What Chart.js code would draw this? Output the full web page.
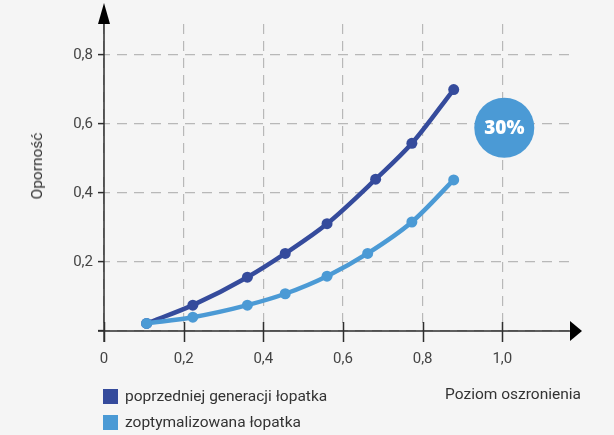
<!DOCTYPE html>
<html lang="pl">
<head>
<meta charset="utf-8">
<title>Oporność vs poziom oszronienia</title>
<script src="https://cdn.jsdelivr.net/npm/chart.js@4"></script>
<style>
    body { margin: 0; background: #f5f5f5; font-family: Roboto, "Noto Sans", sans-serif; }
    #wrap { position: relative; width: 614px; height: 435px; background: #f5f5f5; }
    #chart { position: absolute; left: 0; top: 0; }
    #ytitle {
        position: absolute; left: 37px; top: 166px;
        transform: translate(-50%, -50%) rotate(-90deg);
        font-size: 15.5px; color: #333; white-space: nowrap;
    }
    #xtitle {
        position: absolute; right: 33px; top: 385px;
        font-size: 15.5px; color: #333; white-space: nowrap;
    }
    #legend { position: absolute; left: 103px; top: 383px; }
    .item { display: flex; align-items: center; height: 26px; font-size: 15.5px; color: #333; white-space: nowrap; }
    .box { width: 15px; height: 15px; margin-right: 7px; }
</style>
</head>
<body>
<div id="wrap">
    <canvas id="chart" width="614" height="435"></canvas>
    <div id="ytitle"></div>
    <div id="xtitle"></div>
    <div id="legend"></div>
</div>
<script>
// data
const seriesNames = ["poprzedniej generacji łopatka", "zoptymalizowana łopatka"];
const seriesColors = ["#354b9c", "#4b9ad5"];
const xOld = [0.107, 0.223, 0.36, 0.455, 0.56, 0.682, 0.773, 0.878];
const yOld = [0.022, 0.075, 0.156, 0.225, 0.311, 0.44, 0.544, 0.70];
const xNew = [0.107, 0.223, 0.36, 0.455, 0.56, 0.662, 0.773, 0.878];
const yNew = [0.022, 0.04, 0.075, 0.108, 0.159, 0.225, 0.316, 0.438];
const xTitle = "Poziom oszronienia";
const yTitle = "Oporność";
const badgeText = "30%";
const badgeX = 1.005;
const badgeY = 0.589;

document.getElementById("ytitle").textContent = yTitle;
document.getElementById("xtitle").textContent = xTitle;
let legendEl = document.getElementById("legend");
seriesNames.forEach((name, i) => {
    let row = document.createElement("div");
    row.className = "item";
    row.innerHTML = `<span class="box" style="background:${seriesColors[i]}"></span>${name}`;
    legendEl.appendChild(row);
});

function toPoints(xs, ys) {
    return xs.map((x, i) => ({ x: x, y: ys[i] }));
}

function fmt(v) {
    if (Math.abs(v) < 1e-9) return "0";
    return v.toFixed(1).replace(".", ",");
}

// axis lines, arrows, ticks crossing the x axis, and the 30% badge
const extras = {
    id: "extras",
    beforeDatasetsDraw(chart) {
        const { ctx, chartArea: a, scales: { x, y } } = chart;
        const x0 = x.getPixelForValue(0);
        const y0 = y.getPixelForValue(0);
        ctx.save();
        ctx.strokeStyle = "#2e2e2e";
        ctx.fillStyle = "#000";
        ctx.lineWidth = 1.5;
        ctx.beginPath();
        ctx.moveTo(x0 - 6, y0);
        ctx.lineTo(a.right + 2, y0);
        ctx.moveTo(x0, a.top);
        ctx.lineTo(x0, y0 + 11);
        x.ticks.forEach(t => {
            const px = Math.round(x.getPixelForValue(t.value)) + 0.5;
            ctx.moveTo(px, y0 - 9);
            ctx.lineTo(px, y0 + 11);
        });
        ctx.stroke();
        // arrows
        ctx.beginPath();
        ctx.moveTo(x0, 3);
        ctx.lineTo(x0 - 6, a.top);
        ctx.lineTo(x0 + 6, a.top);
        ctx.closePath();
        ctx.fill();
        ctx.beginPath();
        ctx.moveTo(a.right + 12, y0);
        ctx.lineTo(a.right, y0 - 10);
        ctx.lineTo(a.right, y0 + 10);
        ctx.closePath();
        ctx.fill();
        ctx.restore();
    },
    afterDatasetsDraw(chart) {
        const { ctx, scales: { x, y } } = chart;
        const cx = x.getPixelForValue(badgeX);
        const cy = y.getPixelForValue(badgeY);
        ctx.save();
        ctx.fillStyle = seriesColors[1];
        ctx.beginPath();
        ctx.arc(cx, cy, 30, 0, Math.PI * 2);
        ctx.fill();
        ctx.fillStyle = "#fff";
        ctx.font = "800 19px 'Open Sans'";
        ctx.textAlign = "center";
        ctx.textBaseline = "middle";
        ctx.fillText(badgeText, cx, cy + 1);
        ctx.restore();
    }
};

const lineStyle = (i) => ({
    borderColor: seriesColors[i],
    backgroundColor: seriesColors[i],
    borderWidth: 4.5,
    pointRadius: 5.5,
    pointHoverRadius: 5.5,
    pointBorderWidth: 0,
    cubicInterpolationMode: "monotone",
    borderCapStyle: "round",
    fill: false
});

let chart = new Chart(document.getElementById("chart"), {
    type: "line",
    data: {
        datasets: [
            { label: seriesNames[0], data: toPoints(xOld, yOld), order: 1, ...lineStyle(0) },
            { label: seriesNames[1], data: toPoints(xNew, yNew), order: 0, ...lineStyle(1) }
        ]
    },
    options: {
        responsive: false,
        animation: false,
        events: [],
        layout: { padding: { left: 0, right: 44, top: 24, bottom: 0 } },
        plugins: { legend: { display: false }, tooltip: { enabled: false } },
        scales: {
            x: {
                type: "linear",
                min: 0,
                max: 1.17,
                afterFit: (s) => { s.height = 104; },
                ticks: {
                    stepSize: 0.2,
                    includeBounds: false,
                    padding: 8,
                    color: "#444",
                    font: { family: "Roboto", size: 15 },
                    callback: (v) => fmt(v)
                },
                grid: {
                    color: "#b8b8b8",
                    lineWidth: 1.2,
                    drawTicks: true,
                    tickLength: 11,
                    tickColor: "rgba(0,0,0,0)"
                },
                border: { display: false, dash: [10, 7], dashOffset: 0 }
            },
            y: {
                min: 0,
                max: 0.89,
                afterFit: (s) => { s.width = 104; },
                ticks: {
                    stepSize: 0.2,
                    includeBounds: false,
                    padding: 5,
                    color: "#444",
                    font: { family: "Roboto", size: 15 },
                    callback: (v) => (Math.abs(v) < 1e-9 ? "" : fmt(v))
                },
                grid: {
                    color: "#b8b8b8",
                    lineWidth: 1.2,
                    tickLength: 6,
                    tickColor: "#2e2e2e",
                    tickWidth: 1.5
                },
                border: { display: false, dash: [10, 7], dashOffset: 4 }
            }
        }
    },
    plugins: [extras]
});
</script>
</body>
</html>
